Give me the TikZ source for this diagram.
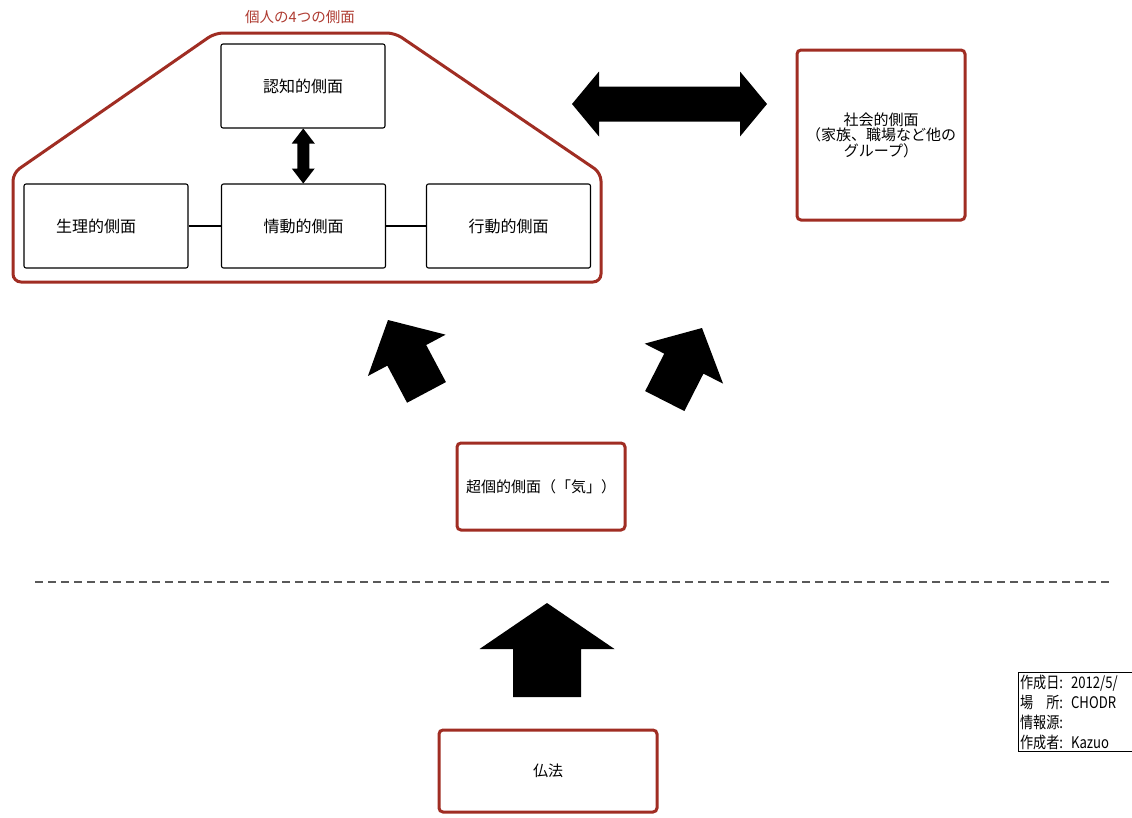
\documentclass[tikz,border=0pt]{standalone}
\usepackage{fontspec}
\setmainfont{Noto Sans CJK JP}
\newfontfamily\narrowfont[FakeStretch=0.82]{Noto Sans CJK JP}
\usetikzlibrary{calc}
\definecolor{framered}{RGB}{160,45,35}
\definecolor{titlered}{RGB}{175,60,50}

\newcommand{\blkarrow}[6]{%
	\fill [black, shift={#1}, rotate=#2] (0,0) -- (-#6,#5) -- (-#6,#4) -- (-#3,#4) -- (-#3,-#4) -- (-#6,-#4) -- (-#6,-#5) -- cycle;}
\newcommand{\dblarrow}[6]{%
	\fill [black, shift={#1}, rotate=#2] ({#3/2},0) -- ({#3/2-#6},#5) -- ({#3/2-#6},#4) -- ({-#3/2+#6},#4) -- ({-#3/2+#6},#5) -- ({-#3/2},0) -- ({-#3/2+#6},-#5) -- ({-#3/2+#6},-#4) -- ({#3/2-#6},-#4) -- ({#3/2-#6},-#5) -- cycle;}

\begin{document}
\begin{tikzpicture}[x=1pt,y=1pt,
		box/.style={draw=black, line width=1.1pt, rounded corners=2pt, font=\fontsize{16}{18}\selectfont, align=center, inner sep=0pt},
		redbox/.style={draw=framered, line width=3pt, rounded corners=4pt, font=\fontsize{15}{15.5}\selectfont, align=center, inner sep=0pt}]
		\fill [white] (0,0) rectangle (1132,-817);
		\useasboundingbox (0,0) rectangle (1132,-817);
		\node [text=titlered, font=\fontsize{14.5}{14.5}\selectfont] (title) at (300,-17) {個人の4つの側面};
		\draw [framered, line width=3pt, rounded corners=8pt] (13,-282) -- (13,-173) -- (215,-33) -- (395,-33) -- (601,-173) -- (601,-282) -- cycle;
		\node [box, minimum width=164pt, minimum height=84pt] (cog) at (303,-86) {認知的側面};
		\node [box, minimum width=164pt, minimum height=84pt] (phys) at (106,-226) {\hspace*{-20pt}生理的側面};
		\node [box, minimum width=164pt, minimum height=84pt] (emo) at (303.5,-226) {情動的側面};
		\node [box, minimum width=164pt, minimum height=84pt] (beh) at (508.5,-226) {行動的側面};
		\draw [black, line width=1.1pt] (phys) -- (emo);
		\draw [black, line width=1.1pt] (emo) -- (beh);
		\dblarrow{($(cog.south)!0.5!(emo.north)$)}{90}{55}{6}{11.5}{15}
		\node [redbox, minimum width=168pt, minimum height=170pt] (social) at (881,-135) {社会的側面\\（家族、職場など他の\\グループ）};
		\dblarrow{(669.5,-104)}{0}{195}{17.5}{32.5}{27}
		\blkarrow{(388,-320)}{118}{82}{22}{44}{40}
		\blkarrow{(702,-328)}{63}{82}{22}{44}{40}
		\node [redbox, minimum width=168pt, minimum height=87pt] (trans) at (541,-486.5) {超個的側面（「気」）};
		\coordinate (sepL) at (35,-582);
		\coordinate (sepR) at (1110,-582);
		\draw [gray!70!black, line width=1.5pt, dash pattern=on 8pt off 5pt] (sepL) -- (sepR);
		\blkarrow{(547,-603)}{90}{94}{34}{67.5}{46}
		\node [redbox, minimum width=218pt, minimum height=82pt] (dharma) at (548,-771) {仏法};
		\node [draw=black, line width=1.2pt, align=left, anchor=north west, inner xsep=1.5pt, inner ysep=2pt, text width=135pt, font=\narrowfont\fontsize{16}{20}\selectfont] (info) at (1018,-672) {作成日: 2012/5/\\場　所: CHODR\\情報源:\\作成者: Kazuo};
	\end{tikzpicture}
\end{document}
